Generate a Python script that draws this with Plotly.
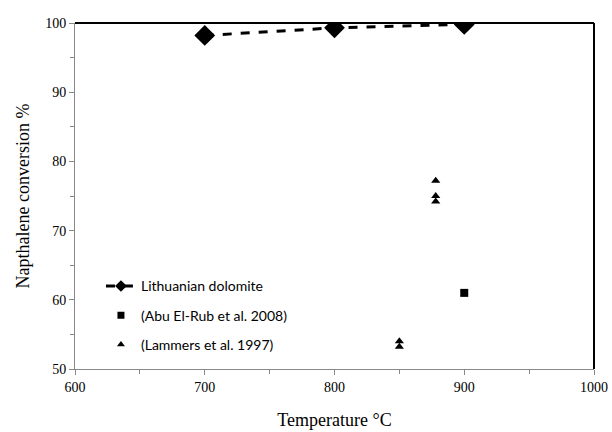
import plotly.graph_objects as go

dolomite_x = [700, 800, 900]
dolomite_y = [98.2, 99.3, 99.8]
abu_x = [900]
abu_y = [61.0]
lammers_x = [850, 850, 878, 878, 878]
lammers_y = [54.0, 53.2, 77.2, 75.0, 74.2]

fig = go.Figure()
fig.add_trace(go.Scatter(x=dolomite_x, y=dolomite_y, mode="lines+markers",
                         name="Lithuanian dolomite", legendgroup="a", showlegend=False,
                         line=dict(color="black", width=3, dash="dash"),
                         marker=dict(symbol="diamond", size=16, color="black")))
fig.add_trace(go.Scatter(x=abu_x, y=abu_y, mode="markers",
                         name="(Abu El-Rub et al. 2008)", legendgroup="b", showlegend=False,
                         marker=dict(symbol="square", size=8, color="black")))
fig.add_trace(go.Scatter(x=lammers_x, y=lammers_y, mode="markers",
                         name="(Lammers et al. 1997)", legendgroup="c", showlegend=False,
                         marker=dict(symbol="triangle-up", size=8, color="black")))

# legend entries with smaller symbols, as in the original legend
fig.add_trace(go.Scatter(x=[None], y=[None], mode="lines+markers",
                         name="Lithuanian dolomite", legendgroup="a",
                         line=dict(color="black", width=3, dash="dash"),
                         marker=dict(symbol="diamond", size=9, color="black")))
fig.add_trace(go.Scatter(x=[None], y=[None], mode="markers",
                         name="(Abu El-Rub et al. 2008)", legendgroup="b",
                         marker=dict(symbol="square", size=7, color="black")))
fig.add_trace(go.Scatter(x=[None], y=[None], mode="markers",
                         name="(Lammers et al. 1997)", legendgroup="c",
                         marker=dict(symbol="triangle-up", size=7, color="black")))

axis_common = dict(showgrid=False, zeroline=False, showline=True, linecolor="#888888",
                   linewidth=1, ticks="outside", tickcolor="#888888", ticklen=5,
                   automargin=False,
                   tickfont=dict(family="Liberation Serif", size=14, color="black"))
fig.update_xaxes(range=[600, 1000], dtick=100, tick0=600,
                 minor=dict(dtick=50, ticks="outside", ticklen=4, tickcolor="#888888"),
                 title=dict(text="Temperature °C", font=dict(family="Liberation Serif", size=18, color="black"), standoff=19),
                 **axis_common)
fig.update_yaxes(range=[50, 100], dtick=10, tick0=50,
                 minor=dict(dtick=5, ticks="outside", ticklen=4, tickcolor="#888888"),
                 title=dict(text="Napthalene conversion %", font=dict(family="Liberation Serif", size=18, color="black"), standoff=10),
                 **axis_common)

fig.add_shape(type="line", xref="paper", yref="paper", x0=0, x1=1, y0=1, y1=1,
              line=dict(color="black", width=2))
fig.add_shape(type="line", xref="paper", yref="paper", x0=1, x1=1, y0=0, y1=1,
              line=dict(color="black", width=2))

fig.update_layout(
    width=612, height=432,
    margin=dict(l=75, r=18, t=23, b=63),
    paper_bgcolor="white", plot_bgcolor="white",
    showlegend=True,
    legend=dict(x=0.05, y=0.285, xanchor="left", yanchor="top",
                font=dict(family="Lato", size=14, color="black"),
                bgcolor="rgba(0,0,0,0)", tracegroupgap=8, itemwidth=30),
)

fig.write_html("out.html")
